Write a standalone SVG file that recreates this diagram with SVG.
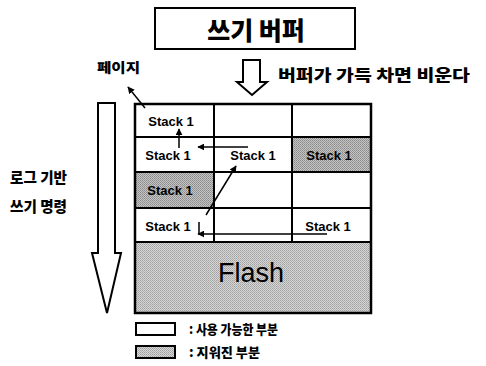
<svg xmlns="http://www.w3.org/2000/svg" width="486" height="366" viewBox="0 0 486 366">
<style>
.k{font-family:"Noto Sans CJK KR","Noto Sans",sans-serif;font-weight:900;fill:#000}
.s{font-family:"Liberation Sans",Arial,sans-serif;font-weight:bold;font-size:13px;fill:#000;text-anchor:middle}
.ln{stroke:#000;stroke-width:2;fill:none}
.ar{stroke:#000;stroke-width:1.5;fill:none;marker-end:url(#ah)}
.bx{fill:#fff;stroke:#000;stroke-width:2}
</style>
<defs>
<marker id="ah" viewBox="0 0 10 10" refX="9" refY="5" markerWidth="7" markerHeight="7" orient="auto" markerUnits="userSpaceOnUse">
<path d="M0,0 L10,5 L0,10 z" fill="#000"/>
</marker>
<pattern id="dk" width="2" height="2" patternUnits="userSpaceOnUse">
<rect width="2" height="2" fill="#c4c4c4"/><rect width="1" height="1" fill="#8a8a8a"/><rect x="1" y="1" width="1" height="1" fill="#9a9a9a"/>
</pattern>
<pattern id="lt" width="2" height="2" patternUnits="userSpaceOnUse">
<rect width="2" height="2" fill="#d6d6d6"/><rect width="1" height="1" fill="#a0a0a0"/><rect x="1" y="1" width="1" height="1" fill="#b0b0b0"/>
</pattern>
</defs>

<g id="buffer">
<rect x="155" y="8" width="200" height="41" class="bx"/>
<text x="256" y="40" class="k" font-size="25" text-anchor="middle">쓰기 버퍼</text>
</g>

<g id="flush-arrow">
<polygon points="243,60 260,60 260,82 267,82 252,95 237,82 243,82" fill="#fff" stroke="#000" stroke-width="2"/>
<text x="278" y="81" class="k" font-size="16" textLength="192" lengthAdjust="spacingAndGlyphs">버퍼가 가득 차면 비운다</text>
</g>

<g id="page-label">
<text x="97" y="72" class="k" font-size="13" textLength="43" lengthAdjust="spacingAndGlyphs">페이지</text>
</g>

<g id="log-arrow">
<polygon points="98,103 115,103 115,253 121,253 107,313 92,253 98,253" fill="#fff" stroke="#000" stroke-width="2"/>
<text x="10" y="183" class="k" font-size="15" textLength="57" lengthAdjust="spacingAndGlyphs">로그 기반</text>
<text x="10" y="212" class="k" font-size="15" textLength="57" lengthAdjust="spacingAndGlyphs">쓰기 명령</text>
</g>

<g id="grid">
<rect x="135" y="104" width="236" height="138" fill="#fff"/>
<rect x="292" y="137" width="79" height="35" fill="url(#dk)"/>
<rect x="135" y="172" width="79" height="36" fill="url(#dk)"/>
<rect x="135" y="242" width="236" height="71" fill="url(#lt)"/>
<path class="ln" d="M135,137 H371 M135,172 H371 M135,208 H371 M135,242 H371 M214,104 V242 M292,104 V242"/>
<rect x="135" y="104" width="236" height="209" fill="none" stroke="#000" stroke-width="2.5"/>
<text x="171" y="126" class="s">Stack 1</text>
<text x="168" y="160" class="s">Stack 1</text>
<text x="253" y="160" class="s">Stack 1</text>
<text x="329" y="160" class="s">Stack 1</text>
<text x="170" y="195" class="s">Stack 1</text>
<text x="168" y="231" class="s">Stack 1</text>
<text x="328" y="231" class="s">Stack 1</text>
<text x="251" y="282" font-family="Liberation Sans,Arial,sans-serif" font-size="27" fill="#000" text-anchor="middle" textLength="66" lengthAdjust="spacingAndGlyphs">Flash</text>
</g>

<g id="connectors">
<line x1="145" y1="108" x2="128" y2="87" class="ar"/>
<line x1="179" y1="148" x2="179" y2="129" class="ar"/>
<line x1="248" y1="147" x2="198" y2="147" class="ar"/>
<line x1="206" y1="215" x2="236" y2="166" class="ar"/>
<line x1="199" y1="222" x2="199" y2="234" stroke="#000" stroke-width="1.5"/>
<line x1="327" y1="234" x2="198" y2="234" class="ar"/>
</g>

<g id="legend">
<rect x="136" y="323" width="39" height="12" class="bx"/>
<text x="189" y="334" class="k" font-size="13" textLength="89" lengthAdjust="spacingAndGlyphs">: 사용 가능한 부분</text>
<rect x="136" y="346" width="39" height="12" fill="url(#lt)" stroke="#000" stroke-width="2"/>
<text x="189" y="357" class="k" font-size="13" textLength="71" lengthAdjust="spacingAndGlyphs">: 지워진 부분</text>
</g>
</svg>
